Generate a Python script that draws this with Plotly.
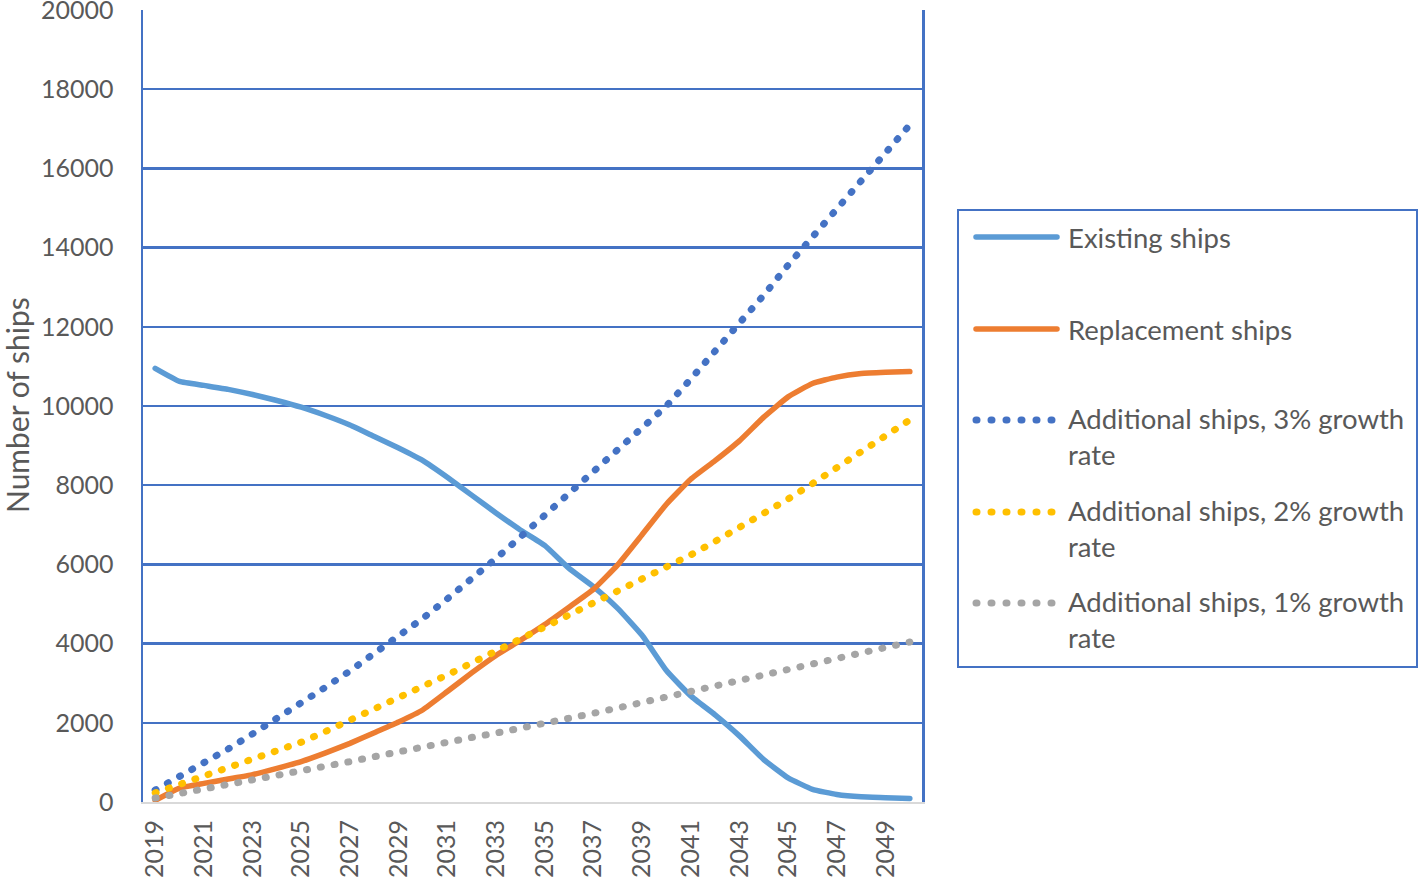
import plotly.graph_objects as go

years = [str(y) for y in range(2019, 2051)]

existing = [10950, 10620, 10520, 10420, 10290, 10140, 9970, 9760, 9520, 9230, 8940,
            8620, 8200, 7750, 7300, 6870, 6480, 5900, 5440, 4890, 4210, 3320,
            2680, 2200, 1670, 1070, 610, 320, 190, 130, 110, 90]
replacement = [40, 350, 470, 580, 690, 850, 1020, 1240, 1480, 1750, 2020,
               2330, 2790, 3260, 3700, 4080, 4480, 4920, 5370, 5990, 6750, 7520,
               8150, 8620, 9120, 9720, 10230, 10570, 10730, 10820, 10850, 10870]
add3 = [300, 640, 990, 1340, 1720, 2100, 2500, 2900, 3310, 3740, 4180,
        4640, 5130, 5630, 6150, 6690, 7250, 7800, 8350, 8900, 9450, 10000,
        10680, 11370, 12070, 12800, 13560, 14260, 14960, 15670, 16380, 17100]
add2 = [230, 440, 650, 860, 1070, 1290, 1510, 1780, 2060, 2340, 2620,
        2910, 3210, 3510, 3810, 4110, 4420, 4710, 5000, 5300, 5600, 5900,
        6240, 6580, 6930, 7290, 7650, 8040, 8430, 8830, 9230, 9650]
add1 = [100, 210, 320, 430, 540, 650, 770, 895, 1020, 1145, 1275,
        1410, 1520, 1630, 1740, 1855, 1970, 2105, 2240, 2375, 2510, 2650,
        2785, 2920, 3050, 3185, 3320, 3465, 3610, 3750, 3895, 4040]

series_names = ["Existing ships", "Replacement ships",
                "Additional ships, 3% growth rate",
                "Additional ships, 2% growth rate",
                "Additional ships, 1% growth rate"]
legend_text = ["Existing ships", "Replacement ships",
               "Additional ships, 3% growth<br>rate",
               "Additional ships, 2% growth<br>rate",
               "Additional ships, 1% growth<br>rate"]
series_values = [existing, replacement, add3, add2, add1]
colors = ["#5B9BD5", "#ED7D31", "#4472C4", "#FFC000", "#A5A5A5"]
solid = [True, True, False, False, False]
y_ticks = list(range(0, 20001, 2000))
x_ticks = [str(y) for y in range(2019, 2051, 2)]

W, H = 1419, 880
L, R, T, B = 143, 922, 10, 802
FONT = "Lato"
TXT = "#595959"
DOT = "1px,13px"

fig = go.Figure()
for name, vals, col, s in zip(series_names, series_values, colors, solid):
    fig.add_trace(go.Scatter(
        x=years, y=vals, name=name, mode="lines", showlegend=False,
        line=dict(color=col, width=5.5 if s else 7, dash=None if s else DOT,
                  shape="spline" if s else "linear", smoothing=0.4)))

def px2x(px):
    return (px - L) / (R - L)

def px2y(py):
    return (B - py) / (B - T)

shapes = []
annotations = []
shapes.append(dict(type="rect", xref="paper", yref="paper",
                   x0=px2x(958), x1=px2x(1417), y0=px2y(667), y1=px2y(210),
                   line=dict(color="#4472C4", width=2), fillcolor="white", layer="below"))
row_y = [237, 329, 420, 512, 603]
for txt, col, s, ry in zip(legend_text, colors, solid, row_y):
    shapes.append(dict(type="line", xref="paper", yref="paper",
                       x0=px2x(976), x1=px2x(1057) if s else px2x(1058),
                       y0=px2y(ry), y1=px2y(ry),
                       line=dict(color=col, width=5.5 if s else 7,
                                 dash=None if s else "1px,14px")))
    two = "<br>" in txt
    annotations.append(dict(
        xref="paper", yref="paper", x=px2x(1066), y=px2y(ry - 20 if two else ry),
        xanchor="left", yanchor="top" if two else "middle", align="left",
        text=txt, showarrow=False, font=dict(family=FONT, size=27.5, color=TXT)))

annotations.append(dict(
    xref="paper", yref="paper", x=px2x(17), y=px2y(405), xanchor="center",
    yanchor="middle", textangle=-90, text="Number of ships", showarrow=False,
    font=dict(family=FONT, size=30, color=TXT)))

fig.update_layout(
    width=W, height=H,
    margin=dict(l=L, r=W - R, t=T, b=H - B, pad=0),
    paper_bgcolor="white", plot_bgcolor="white",
    font=dict(family=FONT, size=25, color=TXT),
    shapes=shapes, annotations=annotations,
    xaxis=dict(type="category", range=[-0.5, 31.5], tickmode="array",
               tickvals=x_ticks, ticktext=x_ticks, tickangle=-90,
               showgrid=False, showline=True, linecolor="#D9D9D9", linewidth=2,
               ticks="", automargin=False, ticklabelstandoff=6,
               ticklabeloverflow="allow",
               tickfont=dict(family=FONT, size=25, color=TXT)),
    yaxis=dict(range=[0, 20000], tickmode="array", tickvals=y_ticks,
               tickformat="d",
               showgrid=True, gridcolor="#4472C4", gridwidth=2.5,
               showline=True, linecolor="#4472C4", linewidth=2.5, mirror=True,
               zeroline=False, ticks="", automargin=False, ticklabelstandoff=22,
               ticklabeloverflow="allow",
               tickfont=dict(family=FONT, size=25, color=TXT)),
)

post = """
document.documentElement.style.margin='0';
document.body.style.margin='0';
document.body.style.overflow='hidden';
var gd = document.getElementById('{plot_id}');
function roundCaps(){
  gd.querySelectorAll('.scatterlayer path.js-line, .shapelayer path').forEach(function(p){
    p.style.strokeLinecap = 'round';
  });
}
roundCaps();
gd.on && gd.on('plotly_afterplot', roundCaps);
"""

fig.write_html("out.html", post_script=post,
               config={"displayModeBar": False, "staticPlot": True})
